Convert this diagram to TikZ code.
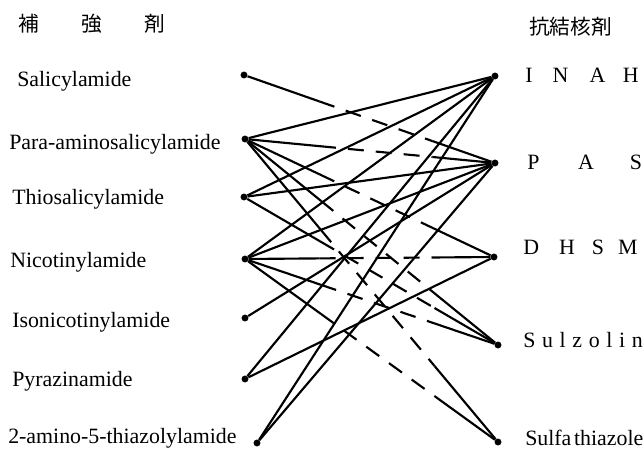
\documentclass[tikz,border=0pt]{standalone}
\usepackage{fontspec}
\setmainfont{Liberation Serif}
\newfontfamily\jpfont{Noto Sans CJK JP}
\usetikzlibrary{calc}

\tikzset{
  dot/.style={circle, fill, inner sep=0pt, minimum size=5.2pt},
  link/.style={line width=1.6pt},
  dashpart/.style={dash pattern=on 12pt off 9pt},
  lbl/.style={anchor=base west, inner sep=0pt, font=\fontsize{16.4}{18}\selectfont},
  head/.style={anchor=west, inner sep=0pt, font=\jpfont\fontsize{15.5}{17}\selectfont}
}

% solid near both ends, broken in the middle
\newcommand{\brokenlink}[2]{%
  \draw[link] (#1) -- ($(#1)!0.3!(#2)$);
  \draw[link, dashpart] ($(#1)!0.3!(#2)$) -- ($(#1)!0.75!(#2)$);
  \draw[link] ($(#1)!0.75!(#2)$) -- (#2);
}

\begin{document}
\begin{tikzpicture}[x=0.75pt, y=-0.75pt]
  \useasboundingbox (0,0) rectangle (643,449);

  % --- headings ---
  \node[head] (hleft) at (18,24) {補\hspace{32pt}強\hspace{32pt}剤};
  \node[head] (hright) at (529,27) {抗結核剤};

  % --- left column: labels ---
  \node[lbl] (sal-t) at (17,86.5) {Salicylamide};
  \node[lbl] (para-t) at (9,149.5) {Para-aminosalicylamide};
  \node[lbl] (thio-t) at (12,204.5) {Thiosalicylamide};
  \node[lbl] (nico-t) at (10,267.5) {Nicotinylamide};
  \node[lbl] (iso-t) at (12,327.5) {Isonicotinylamide};
  \node[lbl] (pyr-t) at (12,386.5) {Pyrazinamide};
  \node[lbl] (amino-t) at (8,443.5) {2-amino-5-thiazolylamide};

  % --- left column: dots ---
  \node[dot] (sal) at (244,75) {};
  \node[dot] (para) at (245,139) {};
  \node[dot] (thio) at (244,197) {};
  \node[dot] (nico) at (245,259) {};
  \node[dot] (iso) at (245,318) {};
  \node[dot] (pyr) at (245,379) {};
  \node[dot] (amino) at (257,443) {};

  % --- right column: dots ---
  \node[dot] (inah) at (495,76) {};
  \node[dot] (pas) at (495,163) {};
  \node[dot] (dhsm) at (494,257) {};
  \node[dot] (sulz) at (498,345) {};
  \node[dot] (sulfa) at (498,442) {};

  % --- right column: labels ---
  \node[lbl] (inah-t) at (525,82.5) {I\hspace{15pt}N\hspace{16pt}A\hspace{13pt}H};
  \node[lbl] (pas-t) at (527,169.5) {P\hspace{29pt}A\hspace{27pt}S};
  \node[lbl] (dhsm-t) at (523,254.5) {D\hspace{15pt}H\hspace{12.7pt}S\hspace{10.6pt}M};
  \node[lbl] (sulz-t) at (523,347.5) {S\hspace{5pt}u\hspace{5pt}l\hspace{5pt}z\hspace{5pt}o\hspace{5pt}l\hspace{5pt}i\hspace{5pt}n};
  \node[lbl] (sulfa-t) at (525,445.5) {Sulfa\hspace{2pt}thiazole};

  % solid links
  \foreach \a/\b in {para/inah, thio/inah, thio/pas, nico/inah, nico/pas,
                     iso/pas, pyr/inah, pyr/dhsm, amino/inah, amino/pas}
    \draw[link] (\a) -- (\b);

  % broken links
  \foreach \a/\b in {sal/pas, para/pas, para/dhsm, para/sulz, para/sulfa,
                     thio/sulz, nico/dhsm, nico/sulz, nico/sulfa}
    \brokenlink{\a}{\b};
\end{tikzpicture}
\end{document}
